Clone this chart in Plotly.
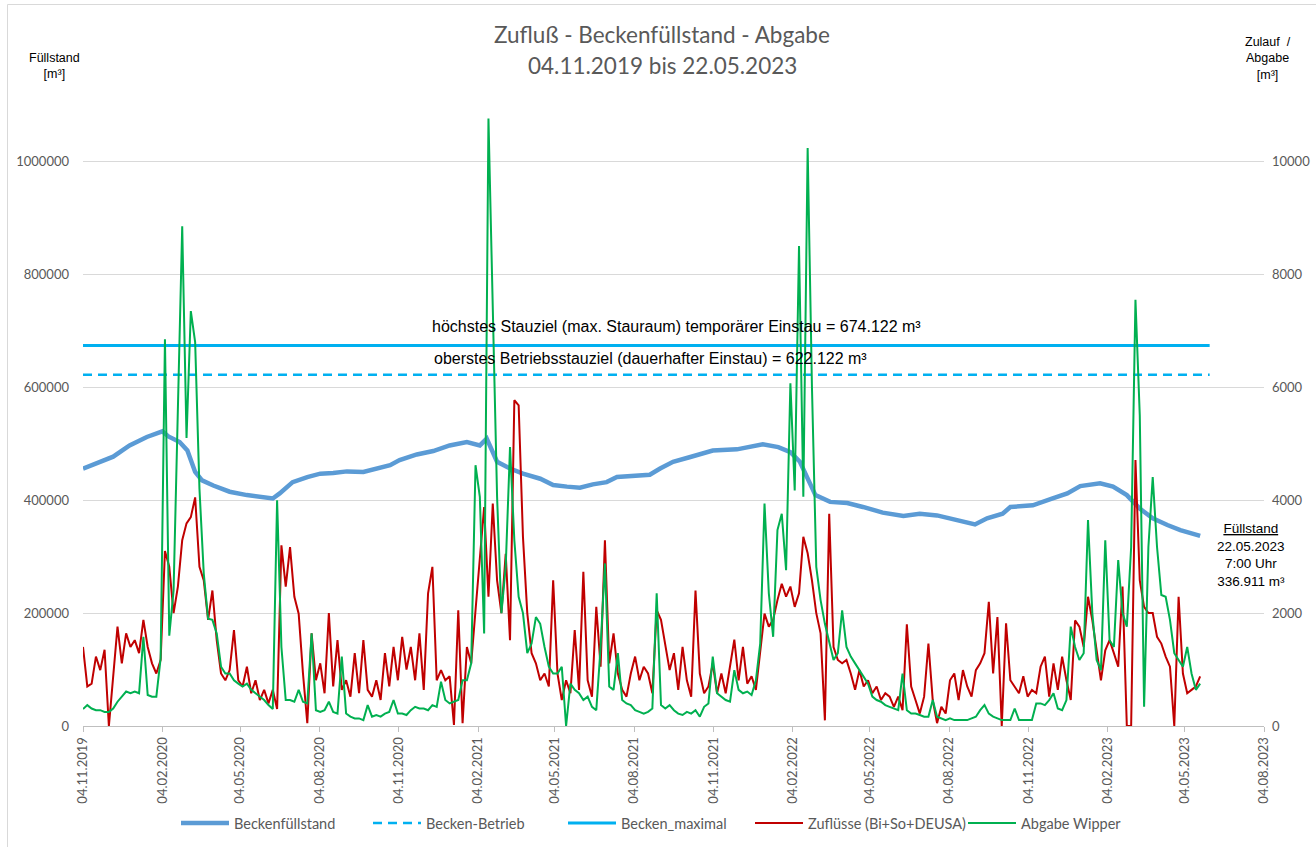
import pandas as pd
import plotly.graph_objects as go

# ---------------- data ----------------
START = "2019-11-04"
END_AXIS = "2023-08-04"
STEP_DAYS = 5  # sampling interval of the inflow / outflow series

ZUFLUSS = [
    1400, 700, 750, 1230, 990, 1350, 0, 930, 1760, 1110,
    1640, 1400, 1520, 1290, 1880, 1400, 1110, 930, 1170, 3100,
    2820, 2000, 2470, 3290, 3590, 3700, 4050, 2820, 2580, 1880,
    2400, 1520, 930, 810, 990, 1700, 810, 700, 1050, 580,
    810, 460, 640, 400, 640, 300, 3200, 2470, 3170, 2290,
    1990, 930, 50, 1640, 810, 1110, 580, 2000, 700, 1520,
    640, 810, 520, 1290, 580, 1520, 640, 520, 810, 460,
    1290, 700, 1400, 810, 1580, 1000, 1400, 810, 1640, 640,
    2350, 2820, 810, 990, 810, 880, 20, 2050, 50, 1400,
    1110, 2050, 2940, 3880, 2290, 3940, 2580, 2000, 3050, 1520,
    5770, 5680, 3350, 2000, 1290, 1110, 810, 930, 700, 2580,
    930, 460, 810, 580, 1700, 640, 2730, 810, 520, 2110,
    1050, 3290, 1110, 1640, 930, 640, 520, 930, 1230, 810,
    1050, 930, 580, 2050, 1880, 1400, 990, 1290, 640, 1400,
    810, 520, 2400, 930, 580, 700, 1110, 580, 930, 580,
    1050, 1530, 810, 1400, 750, 880, 640, 1290, 1990, 1760,
    1880, 2230, 2520, 2290, 2470, 2110, 2350, 3350, 3060, 2580,
    2000, 1640, 100, 3760, 1400, 1170, 1110, 1170, 930, 640,
    990, 700, 810, 580, 700, 460, 580, 520, 340, 520,
    280, 1800, 700, 460, 220, 520, 1460, 460, 50, 340,
    220, 810, 930, 460, 990, 700, 520, 990, 1110, 1290,
    2200, 930, 1930, 0, 1820, 810, 700, 580, 880, 520,
    640, 580, 1050, 1230, 520, 1110, 640, 1230, 810, 460,
    1870, 1760, 1400, 2290, 1870, 1290, 810, 1340, 1520, 1290,
    1050, 2470, 0, 0, 4710, 2580, 2110, 2000, 2000, 1580,
    1460, 1230, 1050, 0, 2290, 930, 580, 640, 700, 880,
]

ABGABE = [
    300, 370, 310, 280, 280, 250, 250, 310, 430, 520,
    610, 580, 610, 580, 1580, 550, 520, 520, 1200, 6850,
    1600, 2400, 5500, 8850, 5100, 7350, 6800, 4200, 2700, 1900,
    1880, 1640, 1050, 930, 930, 810, 750, 700, 750, 640,
    580, 520, 460, 370, 300, 4000, 1400, 460, 460, 430,
    640, 430, 400, 1640, 280, 250, 280, 430, 250, 220,
    1230, 220, 165, 135, 135, 105, 370, 165, 195, 165,
    220, 250, 460, 220, 220, 195, 280, 340, 310, 310,
    280, 370, 340, 785, 460, 400, 430, 460, 810, 810,
    1110, 4620, 4060, 1640, 10760, 7500, 4060, 2000, 2820, 4940,
    3290, 2290, 2000, 1290, 1460, 1930, 1810, 1400, 1050, 930,
    930, 1050, 0, 750, 640, 580, 460, 520, 340, 280,
    1400, 2880, 700, 640, 1290, 460, 400, 370, 280, 250,
    220, 250, 310, 2350, 370, 310, 370, 280, 220, 195,
    250, 220, 280, 165, 340, 400, 1230, 580, 520, 460,
    430, 990, 640, 580, 610, 550, 810, 1460, 3940, 2350,
    1580, 3470, 3760, 2760, 6070, 4170, 8500, 4060, 10240, 6000,
    2820, 2230, 1810, 1460, 1170, 1290, 2050, 1400, 1230, 1110,
    990, 880, 750, 520, 460, 430, 370, 340, 310, 280,
    930, 280, 220, 220, 195, 165, 165, 460, 165, 135,
    105, 135, 105, 105, 105, 105, 135, 165, 280, 370,
    220, 165, 135, 105, 105, 105, 310, 105, 105, 105,
    105, 400, 400, 370, 460, 580, 310, 280, 460, 1760,
    1400, 1170, 1290, 3650, 2000, 1170, 990, 3290, 1520, 1400,
    2940, 2000, 1760, 3170, 7550, 5500, 340, 3170, 4410, 3170,
    2320, 2290, 1880, 1290, 1170, 1050, 1400, 930, 640, 750,
]

FUELL_DATES = [
    "2019-11-04", "2019-11-24", "2019-12-09", "2019-12-28", "2020-01-17",
    "2020-02-04", "2020-02-11", "2020-02-24", "2020-03-04", "2020-03-13",
    "2020-03-21", "2020-04-03", "2020-04-22", "2020-05-12", "2020-05-27",
    "2020-06-11", "2020-06-19", "2020-07-04", "2020-07-21", "2020-08-05",
    "2020-08-20", "2020-09-05", "2020-09-24", "2020-10-13", "2020-10-25",
    "2020-11-05", "2020-11-25", "2020-12-14", "2021-01-02", "2021-01-22",
    "2021-02-06", "2021-02-14", "2021-02-26", "2021-03-13", "2021-03-28",
    "2021-04-17", "2021-05-02", "2021-05-18", "2021-06-02", "2021-06-17",
    "2021-07-03", "2021-07-15", "2021-08-03", "2021-08-22", "2021-09-03",
    "2021-09-18", "2021-10-07", "2021-11-03", "2021-12-01", "2021-12-31",
    "2022-01-18", "2022-02-01", "2022-02-12", "2022-02-20", "2022-03-02",
    "2022-03-19", "2022-04-08", "2022-04-26", "2022-05-19", "2022-06-12",
    "2022-07-01", "2022-07-21", "2022-08-09", "2022-09-03", "2022-09-17",
    "2022-10-05", "2022-10-14", "2022-11-09", "2022-12-02", "2022-12-19",
    "2023-01-03", "2023-01-26", "2023-02-10", "2023-02-26", "2023-03-13",
    "2023-03-28", "2023-04-14", "2023-04-29", "2023-05-22",
]
FUELL_VALUES = [
    456000, 468000, 477000, 497000, 512000,
    522000, 513000, 503000, 488000, 450000,
    435000, 426000, 415000, 409000, 406000,
    403000, 412000, 432000, 441000, 447000,
    448000, 451000, 450000, 458000, 462000,
    471000, 481000, 487000, 497000, 503000,
    497000, 509000, 468000, 456000, 447000,
    438000, 427000, 424000, 422000, 428000,
    432000, 441000, 442000, 445000, 456000,
    468000, 476000, 488000, 490000, 499000,
    494000, 485000, 468000, 441000, 409000,
    397000, 395000, 388000, 378000, 372000,
    376000, 373000, 366000, 357000, 368000,
    376000, 388000, 391000, 403000, 412000,
    425000, 430000, 424000, 409000, 385000,
    368000, 356000, 347000, 336911,
]

BETRIEB = 622122
MAXIMAL = 674122
LIMIT_DATES = ["2019-11-04", "2023-06-02"]

TICK_DATES = [
    "2019-11-04", "2020-02-04", "2020-05-04", "2020-08-04",
    "2020-11-04", "2021-02-04", "2021-05-04", "2021-08-04",
    "2021-11-04", "2022-02-04", "2022-05-04", "2022-08-04",
    "2022-11-04", "2023-02-04", "2023-05-04", "2023-08-04",
]

flow_dates = pd.date_range(START, periods=len(ZUFLUSS), freq=f"{STEP_DAYS}D")
flow_dates_g = pd.date_range(START, periods=len(ABGABE), freq=f"{STEP_DAYS}D")

# ---------------- figure ----------------
GREY = "#595959"
W, H = 1316, 847
ML, MR, MT, MB = 83, 52, 105, 121
PW, PH = W - ML - MR, H - MT - MB


def px_x(x):
    return (x - ML) / PW


def px_y(y):
    return (H - MB - y) / PH


fig = go.Figure()

fig.add_trace(go.Scatter(
    x=FUELL_DATES, y=FUELL_VALUES, name="Beckenfüllstand", mode="lines",
    line=dict(color="#5B9BD5", width=4.5), yaxis="y", legend="legend"))
fig.add_trace(go.Scatter(
    x=LIMIT_DATES, y=[BETRIEB] * len(LIMIT_DATES), name="Becken-Betrieb", mode="lines",
    line=dict(color="#00B0F0", width=2.5, dash="9px,6px"), yaxis="y", legend="legend2"))
fig.add_trace(go.Scatter(
    x=LIMIT_DATES, y=[MAXIMAL] * len(LIMIT_DATES), name="Becken_maximal", mode="lines",
    line=dict(color="#00B0F0", width=3), yaxis="y", legend="legend3"))
fig.add_trace(go.Scatter(
    x=flow_dates, y=ZUFLUSS, name="Zuflüsse (Bi+So+DEUSA)", mode="lines",
    line=dict(color="#C00000", width=2), yaxis="y2", legend="legend4"))
fig.add_trace(go.Scatter(
    x=flow_dates_g, y=ABGABE, name="Abgabe Wipper", mode="lines",
    line=dict(color="#00B050", width=2), yaxis="y2", legend="legend5"))

annot_font = dict(family="Liberation Sans, Arial, sans-serif", color="#000000")

annotations = [
    dict(text="Zufluß - Beckenfüllstand - Abgabe", x=px_x(662), y=px_y(35),
         font=dict(family="Lato, sans-serif", size=22.5, color=GREY)),
    dict(text="04.11.2019 bis 22.05.2023", x=px_x(662), y=px_y(66),
         font=dict(family="Lato, sans-serif", size=22.5, color=GREY)),
    dict(text="Füllstand<br>[m³]", x=px_x(54), y=px_y(66),
         font=dict(annot_font, size=12.5)),
    dict(text="Zulauf&nbsp; /<br>Abgabe<br>[m³]", x=px_x(1268), y=px_y(59),
         font=dict(annot_font, size=12.5)),
    dict(text=f"höchstes Stauziel (max. Stauraum) temporärer Einstau = {MAXIMAL/1000:.3f} m³",
         x=px_x(430), y=px_y(326), xanchor="left",
         font=dict(annot_font, size=16)),
    dict(text=f"oberstes Betriebsstauziel (dauerhafter Einstau) = {BETRIEB/1000:.3f} m³",
         x=px_x(432), y=px_y(358), xanchor="left",
         font=dict(annot_font, size=16)),
    dict(text=f"<u>Füllstand</u><br>22.05.2023<br>7:00 Uhr<br>{FUELL_VALUES[-1]/1000:.3f} m³",
         x=px_x(1251), y=px_y(555),
         font=dict(annot_font, size=13.5)),
]
for a in annotations:
    a.setdefault("xanchor", "center")
    a.update(xref="paper", yref="paper", yanchor="middle", showarrow=False, align="center")


def legend_at(px):
    return dict(orientation="h", x=px_x(px - 7), xanchor="left", y=px_y(823), yanchor="middle",
                font=dict(family="Lato, sans-serif", size=14.5, color=GREY),
                itemwidth=48, bgcolor="rgba(0,0,0,0)")


fig.update_layout(
    width=W, height=H,
    margin=dict(l=ML, r=MR, t=MT, b=MB, autoexpand=False),
    paper_bgcolor="white", plot_bgcolor="white",
    showlegend=True,
    legend=legend_at(183),
    legend2=legend_at(375),
    legend3=legend_at(570),
    legend4=legend_at(757),
    legend5=legend_at(970),
    xaxis=dict(type="date", range=[START, END_AXIS], tickvals=TICK_DATES,
               tickformat="%d.%m.%Y", tickangle=-90, ticks="outside", ticklen=5,
               tickcolor="#BFBFBF", showline=True, linecolor="#BFBFBF", linewidth=1,
               showgrid=False, zeroline=False, automargin=False,
               tickfont=dict(family="Lato, sans-serif", size=13, color=GREY)),
    yaxis=dict(range=[0, 1100000], dtick=200000, tickformat="d",
               showgrid=True, gridcolor="#D9D9D9", gridwidth=1, zeroline=False,
               showline=False, ticks="", ticklabelstandoff=13, automargin=False,
               tickfont=dict(family="Lato, sans-serif", size=13, color=GREY)),
    yaxis2=dict(range=[0, 11000], dtick=2000, tickformat="d", overlaying="y", side="right",
                showgrid=False, zeroline=False, showline=False, ticks="",
                ticklabelstandoff=7, automargin=False,
                tickfont=dict(family="Lato, sans-serif", size=13, color=GREY)),
    annotations=annotations,
    shapes=[dict(type="rect", xref="paper", yref="paper",
                 x0=px_x(7.5), x1=px_x(1330), y0=px_y(860), y1=px_y(4.5),
                 line=dict(color="#D9D9D9", width=1), fillcolor="rgba(0,0,0,0)",
                 layer="below")],
)

fig.write_html("out.html", config={"displayModeBar": False},
               post_script="document.body.style.margin='0px';")
